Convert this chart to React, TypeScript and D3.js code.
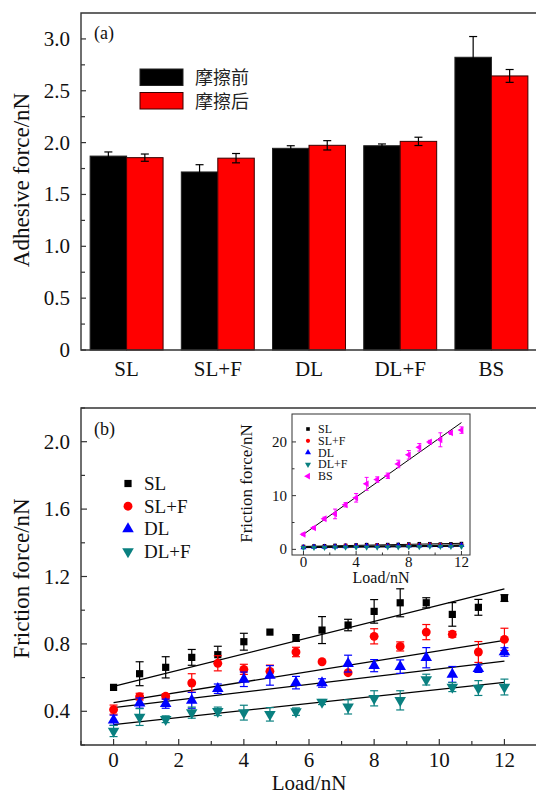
import React from 'react';
import * as d3 from 'd3';

// ---------- Panel (a) data ----------
const categories = ['SL', 'SL+F', 'DL', 'DL+F', 'BS'];
const beforeValues = [1.87, 1.717, 1.945, 1.97, 2.823];
const beforeErrors = [0.04, 0.07, 0.025, 0.017, 0.2];
const afterValues = [1.855, 1.85, 1.974, 2.012, 2.643];
const afterErrors = [0.035, 0.045, 0.045, 0.04, 0.062];
const barLegend = ['摩擦前', '摩擦后'];
const aTicks = [0, 0.5, 1.0, 1.5, 2.0, 2.5, 3.0];
const aTickLabels = ['0', '0.5', '1.0', '1.5', '2.0', '2.5', '3.0'];

// ---------- Panel (b) data ----------
const loads = [0, 0.8, 1.6, 2.4, 3.2, 4.0, 4.8, 5.6, 6.4, 7.2, 8.0, 8.8, 9.6, 10.4, 11.2, 12.0];
const seriesNames = ['SL', 'SL+F', 'DL', 'DL+F'];
const slValues = [0.542, 0.623, 0.661, 0.72, 0.736, 0.813, 0.87, 0.835, 0.882, 0.912, 0.993, 1.044, 1.044, 0.975, 1.017, 1.072];
const slErrors = [0.01, 0.071, 0.063, 0.047, 0.05, 0.05, 0.01, 0.02, 0.08, 0.034, 0.07, 0.083, 0.03, 0.07, 0.047, 0.02];
const slfValues = [0.41, 0.487, 0.489, 0.568, 0.685, 0.649, 0.637, 0.752, 0.694, 0.629, 0.845, 0.785, 0.87, 0.857, 0.752, 0.827];
const slfErrors = [0.027, 0.02, 0.015, 0.055, 0.045, 0.03, 0.037, 0.028, 0.0, 0.01, 0.045, 0.027, 0.045, 0.017, 0.062, 0.066];
const dlValues = [0.347, 0.449, 0.445, 0.465, 0.534, 0.59, 0.613, 0.57, 0.568, 0.683, 0.671, 0.665, 0.718, 0.619, 0.653, 0.752];
const dlErrors = [0.03, 0.03, 0.027, 0.047, 0.028, 0.043, 0.058, 0.037, 0.025, 0.05, 0.036, 0.04, 0.06, 0.047, 0.022, 0.025];
const dlfValues = [0.283, 0.366, 0.353, 0.392, 0.4, 0.392, 0.382, 0.398, 0.455, 0.426, 0.477, 0.465, 0.588, 0.544, 0.538, 0.544];
const dlfErrors = [0.033, 0.05, 0.02, 0.033, 0.025, 0.044, 0.04, 0.022, 0.015, 0.042, 0.045, 0.057, 0.032, 0.027, 0.044, 0.047];
const fitStart = [0.548, 0.451, 0.422, 0.321]; // fitted value at load 0
const fitEnd = [1.127, 0.821, 0.698, 0.572]; // fitted value at load 12
const bTicks = [0.4, 0.8, 1.2, 1.6, 2.0];
const bTickLabels = ['0.4', '0.8', '1.2', '1.6', '2.0'];
const bxTicks = [0, 2, 4, 6, 8, 10, 12];

// ---------- Inset data ----------
const bsValues = [2.8, 4.0, 5.7, 6.6, 8.3, 9.6, 12.2, 13.0, 13.7, 15.9, 17.6, 19.0, 20.0, 20.4, 21.7, 22.2];
const bsErrors = [0.2, 0.2, 0.3, 0.9, 0.4, 0.8, 1.2, 0.5, 0.5, 0.7, 0.8, 0.7, 0.3, 1.3, 0.3, 0.6];
const bsFit = [2.8, 23.6];
const insetYTicks = [0, 10, 20];
const insetXTicks = [0, 4, 8, 12];
const insetNames = ['SL', 'SL+F', 'DL', 'DL+F', 'BS'];

const SERIF = '"Liberation Serif", "DejaVu Serif", serif';
const CJK = '"Noto Sans CJK SC", sans-serif';

const colors = ['#000000', '#ff0000', '#0000ff', '#0a8080'];
const bsColor = '#ff00ff';

const seriesValues = [slValues, slfValues, dlValues, dlfValues];
const seriesErrors = [slErrors, slfErrors, dlErrors, dlfErrors];

function symbolPath(kind: number, size: number) {
  const types = [d3.symbolSquare, d3.symbolCircle, d3.symbolTriangle, d3.symbolTriangle, d3.symbolTriangle];
  return d3.symbol().type(types[kind]).size(size)() as string;
}
function symbolRotate(kind: number) {
  if (kind === 3) return 180;
  if (kind === 4) return -90;
  return 0;
}
const mainSizes = [52, 62, 58, 58];
const insetSizes = [13, 14, 16, 16, 20];

export default function App() {
  // ----- Panel (a) scales -----
  const aLeft = 81, aRight = 537, aTop = 13, aBottom = 350;
  const xBand = d3.scaleBand<string>().domain(categories).range([aLeft, aRight]).paddingInner(0.2).paddingOuter(0.1);
  const xSub = d3.scaleBand<number>().domain([0, 1]).range([0, xBand.bandwidth()]);
  const yA = d3.scaleLinear().domain([0, 3.25]).range([aBottom, aTop]);
  const aMinor = d3.range(0.25, 3.25, 0.5);

  // ----- Panel (b) scales -----
  const bLeft = 81, bRight = 537, bTop = 408, bBottom = 745;
  const xB = d3.scaleLinear().domain([-1, 13]).range([bLeft, bRight]);
  const yB = d3.scaleLinear().domain([0.2, 2.2]).range([bBottom, bTop]);
  const bMinorY = [0.2, 0.6, 1.0, 1.4, 1.8, 2.2];
  const bMinorX = [-1, 1, 3, 5, 7, 9, 11, 13];

  // ----- Inset scales -----
  const iLeft = 292, iRight = 470, iTop = 414, iBottom = 555;
  const xI = d3.scaleLinear().domain([-0.87, 12.65]).range([iLeft, iRight]);
  const yI = d3.scaleLinear().domain([-1.05, 25.2]).range([iBottom, iTop]);
  const iMinorX = [2, 6, 10];
  const iMinorY = [5, 15];

  const line = d3.line<[number, number]>();

  return (
    <svg width={536} height={796} style={{ position: 'absolute', left: 0, top: 0, background: '#fff' }}>
      <rect x={0} y={0} width={536} height={796} fill="#fff" />
      {/* ================= Panel (a) ================= */}
      <g>
        {categories.map((c, i) => {
          const x0 = xBand(c)!;
          const items = [
            { v: beforeValues[i], e: beforeErrors[i], fill: '#000', stroke: '#222', k: 0 },
            { v: afterValues[i], e: afterErrors[i], fill: '#ff0000', stroke: '#3a0000', k: 1 },
          ];
          return (
            <g key={c}>
              {items.map((it) => {
                const bx = x0 + xSub(it.k)!;
                const w = xSub.bandwidth();
                const cx = bx + w / 2;
                return (
                  <g key={it.k}>
                    <rect x={bx} y={yA(it.v)} width={w} height={yA(0) - yA(it.v)} fill={it.fill} stroke={it.stroke} strokeWidth={1} />
                    <line x1={cx} x2={cx} y1={yA(it.v + it.e)} y2={yA(it.v - it.e)} stroke="#000" strokeWidth={1.2} />
                    <line x1={cx - 4} x2={cx + 4} y1={yA(it.v + it.e)} y2={yA(it.v + it.e)} stroke="#000" strokeWidth={1.2} />
                    <line x1={cx - 4} x2={cx + 4} y1={yA(it.v - it.e)} y2={yA(it.v - it.e)} stroke="#000" strokeWidth={1.2} />
                  </g>
                );
              })}
              <text x={x0 + xBand.bandwidth() / 2} y={376} textAnchor="middle" fontFamily={SERIF} fontSize={21} fill="#111">{c}</text>
            </g>
          );
        })}
        {/* frame */}
        <path d={`M${aRight},${aTop}H${aLeft}V${aBottom}H${aRight}`} fill="none" stroke="#333" strokeWidth={1.4} />
        {aTicks.map((t, i) => (
          <g key={t}>
            <line x1={aLeft} x2={aLeft + 5} y1={yA(t)} y2={yA(t)} stroke="#333" strokeWidth={1.2} />
            <text x={70} y={yA(t) + 7} textAnchor="end" fontFamily={SERIF} fontSize={21} fill="#111">{aTickLabels[i]}</text>
          </g>
        ))}
        {aMinor.map((t) => (
          <line key={t} x1={aLeft} x2={aLeft + 4} y1={yA(t)} y2={yA(t)} stroke="#333" strokeWidth={1.2} />
        ))}
        <text transform={`translate(29,180) rotate(-90)`} textAnchor="middle" fontFamily={SERIF} fontSize={23} fill="#111">Adhesive force/nN</text>
        <text x={94} y={39} fontFamily={SERIF} fontSize={18} fill="#111">(a)</text>
        {/* legend */}
        {barLegend.map((l, i) => (
          <g key={l}>
            <rect x={140} y={69 + i * 23.5} width={43} height={16.5} fill={i === 0 ? '#000' : '#ff0000'} stroke={i === 0 ? '#222' : '#3a0000'} strokeWidth={1} />
            <text x={195} y={84 + i * 23.5} fontFamily={CJK} fontSize={18} fill="#222">{l}</text>
          </g>
        ))}
      </g>

      {/* ================= Panel (b) ================= */}
      <g>
        {/* fit lines */}
        {fitStart.map((s, i) => (
          <path key={i} d={line([[xB(0), yB(s)], [xB(12), yB(fitEnd[i])]]) as string} stroke="#000" strokeWidth={1.3} fill="none" />
        ))}
        {seriesValues.map((vals, si) => (
          <g key={si}>
            {vals.map((v, j) => {
              const e = seriesErrors[si][j];
              const cx = xB(loads[j]);
              return (
                <g key={j}>
                  {e > 0.012 && (
                    <g stroke={colors[si]} strokeWidth={1.2}>
                      <line x1={cx} x2={cx} y1={yB(v + e)} y2={yB(v - e)} />
                      <line x1={cx - 4} x2={cx + 4} y1={yB(v + e)} y2={yB(v + e)} />
                      <line x1={cx - 4} x2={cx + 4} y1={yB(v - e)} y2={yB(v - e)} />
                    </g>
                  )}
                  <path d={symbolPath(si, mainSizes[si])} transform={`translate(${cx},${yB(v)}) rotate(${symbolRotate(si)})`} fill={colors[si]} />
                </g>
              );
            })}
          </g>
        ))}
        {/* frame */}
        <path d={`M${bRight},${bTop}H${bLeft}V${bBottom}H${bRight}`} fill="none" stroke="#333" strokeWidth={1.4} />
        {bTicks.map((t, i) => (
          <g key={t}>
            <line x1={bLeft} x2={bLeft + 6} y1={yB(t)} y2={yB(t)} stroke="#333" strokeWidth={1.2} />
            <text x={70} y={yB(t) + 7} textAnchor="end" fontFamily={SERIF} fontSize={21} fill="#111">{bTickLabels[i]}</text>
          </g>
        ))}
        {bMinorY.map((t) => (
          <line key={t} x1={bLeft} x2={bLeft + 4} y1={yB(t)} y2={yB(t)} stroke="#333" strokeWidth={1.2} />
        ))}
        {bxTicks.map((t) => (
          <g key={t}>
            <line x1={xB(t)} x2={xB(t)} y1={bBottom} y2={bBottom - 6} stroke="#333" strokeWidth={1.2} />
            <text x={xB(t)} y={767} textAnchor="middle" fontFamily={SERIF} fontSize={21} fill="#111">{t}</text>
          </g>
        ))}
        {bMinorX.map((t) => (
          <line key={t} x1={xB(t)} x2={xB(t)} y1={bBottom} y2={bBottom - 4} stroke="#333" strokeWidth={1.2} />
        ))}
        <text x={(bLeft + bRight) / 2} y={790} textAnchor="middle" fontFamily={SERIF} fontSize={21} fill="#111">Load/nN</text>
        <text transform={`translate(29,${(bTop + bBottom) / 2 + 2}) rotate(-90)`} textAnchor="middle" fontFamily={SERIF} fontSize={23} fill="#111">Friction force/nN</text>
        <text x={94} y={435} fontFamily={SERIF} fontSize={18} fill="#111">(b)</text>
        {/* legend */}
        {seriesNames.map((n, i) => (
          <g key={n}>
            <path d={symbolPath(i, mainSizes[i])} transform={`translate(128,${483.5 + i * 22.7}) rotate(${symbolRotate(i)})`} fill={colors[i]} />
            <text x={144} y={490 + i * 22.7} fontFamily={SERIF} fontSize={19} fill="#111">{n}</text>
          </g>
        ))}

        {/* ================= Inset ================= */}
        <rect x={iLeft} y={iTop} width={iRight - iLeft} height={iBottom - iTop} fill="#fff" stroke="#333" strokeWidth={1} />
        <path d={line([[xI(0), yI(bsFit[0])], [xI(12), yI(bsFit[1])]]) as string} stroke="#000" strokeWidth={1} fill="none" />
        {fitStart.map((s, i) => (
          <path key={i} d={line([[xI(0), yI(s)], [xI(12), yI(fitEnd[i])]]) as string} stroke="#000" strokeWidth={1} fill="none" />
        ))}
        {seriesValues.map((vals, si) => (
          <g key={si}>
            {vals.map((v, j) => (
              <path key={j} d={symbolPath(si, insetSizes[si])} transform={`translate(${xI(loads[j])},${yI(v)}) rotate(${symbolRotate(si)})`} fill={colors[si]} />
            ))}
          </g>
        ))}
        {bsValues.map((v, j) => {
          const e = bsErrors[j];
          const cx = xI(loads[j]);
          return (
            <g key={j}>
              <g stroke={bsColor} strokeWidth={1}>
                <line x1={cx} x2={cx} y1={yI(v + e)} y2={yI(v - e)} />
                <line x1={cx - 2} x2={cx + 2} y1={yI(v + e)} y2={yI(v + e)} />
                <line x1={cx - 2} x2={cx + 2} y1={yI(v - e)} y2={yI(v - e)} />
              </g>
              <path d={symbolPath(4, insetSizes[4])} transform={`translate(${cx},${yI(v)}) rotate(-90)`} fill={bsColor} />
            </g>
          );
        })}
        {insetYTicks.map((t) => (
          <g key={t}>
            <line x1={iLeft} x2={iLeft + 4} y1={yI(t)} y2={yI(t)} stroke="#333" strokeWidth={1} />
            <text x={iLeft - 5} y={yI(t) + 5} textAnchor="end" fontFamily={SERIF} fontSize={15} fill="#111">{t}</text>
          </g>
        ))}
        {iMinorY.map((t) => (
          <line key={t} x1={iLeft} x2={iLeft + 2.5} y1={yI(t)} y2={yI(t)} stroke="#333" strokeWidth={1} />
        ))}
        {insetXTicks.map((t) => (
          <g key={t}>
            <line x1={xI(t)} x2={xI(t)} y1={iBottom} y2={iBottom - 4} stroke="#333" strokeWidth={1} />
            <text x={xI(t)} y={567} textAnchor="middle" fontFamily={SERIF} fontSize={15} fill="#111">{t}</text>
          </g>
        ))}
        {iMinorX.map((t) => (
          <line key={t} x1={xI(t)} x2={xI(t)} y1={iBottom} y2={iBottom - 2.5} stroke="#333" strokeWidth={1} />
        ))}
        <text x={(iLeft + iRight) / 2} y={583} textAnchor="middle" fontFamily={SERIF} fontSize={16} fill="#111">Load/nN</text>
        <text transform={`translate(252,${(iTop + iBottom) / 2 - 1}) rotate(-90)`} textAnchor="middle" fontFamily={SERIF} fontSize={17} fill="#111">Friction force/nN</text>
        {insetNames.map((n, i) => (
          <g key={n}>
            <path d={symbolPath(i, insetSizes[i])} transform={`translate(308,${429 + i * 11.8}) rotate(${symbolRotate(i)})`} fill={i < 4 ? colors[i] : bsColor} />
            <text x={318} y={433 + i * 11.8} fontFamily={SERIF} fontSize={12} fill="#111">{n}</text>
          </g>
        ))}
      </g>
    </svg>
  );
}
